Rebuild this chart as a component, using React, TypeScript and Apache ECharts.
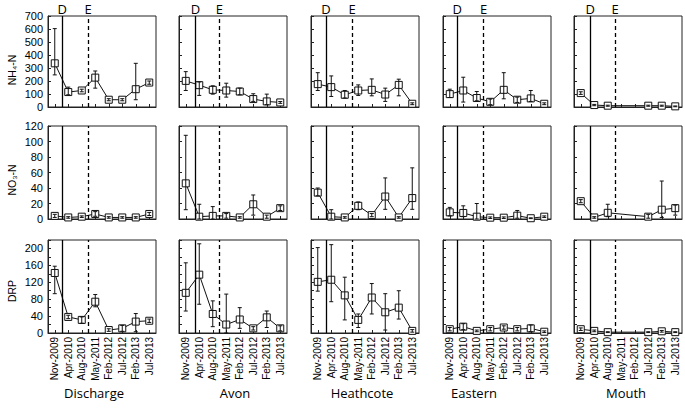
import React, { useEffect, useRef } from "react";
import * as echarts from "echarts";

const CATEGORIES = ["Nov-2009", "Apr-2010", "Aug-2010", "May-2011", "Feb-2012", "Jul-2012", "Feb-2013", "Jul-2013"];
const SITES = ["Discharge", "Avon", "Heathcote", "Eastern", "Mouth"];
const VARIABLES = ["NH₄-N", "NO₃-N", "DRP"];

// event positions (in category-index units) for the Darfield (D) and Christchurch (E) earthquakes
const D_POS = [0.55, 0.72, 0.6, 0.56, 0.7];
const E_POS = [2.48, 2.49, 2.55, 2.5, 2.55];

type N = number | null;

// NH4-N
const NH4_MEAN: N[][] = [
  [336, 115, 127, 226, 56, 56, 137, 188],
  [201, 168, 132, 127, 119, 61, 43, 35],
  [176, 153, 94, 127, 132, 96, 170, 25],
  [99, 127, 69, 40, 132, 56, 66, 25],
  [107, 15, 10, null, null, 10, 10, 5],
];
const NH4_LOW: N[][] = [
  [247, 94, 117, 145, 48, 48, 56, 175],
  [127, 89, 99, 76, 94, 43, 18, 28],
  [127, 81, 69, 89, 86, 43, 86, 18],
  [73, 38, 48, 18, 63, 35, 43, 18],
  [97, 10, 6, null, null, 6, 6, 2],
];
const NH4_HIGH: N[][] = [
  [603, 153, 137, 277, 64, 64, 336, 200],
  [272, 193, 163, 183, 145, 102, 99, 42],
  [264, 239, 127, 170, 216, 145, 214, 32],
  [137, 229, 119, 61, 264, 76, 127, 32],
  [117, 20, 14, null, null, 14, 14, 8],
];

// NO3-N
const NO3_MEAN: N[][] = [
  [4, 2, 3, 6.5, 2, 2, 2, 6.5],
  [46, 3, 4, 4, 2, 19, 3, 14],
  [34, 3, 2, 17, 5, 29, 2, 27],
  [8.6, 7.8, 3, 1.7, 1.7, 4.3, 1, 3],
  [23, 2, 8, null, null, 3, 12, 14],
];
const NO3_LOW: N[][] = [
  [2, 1, 2, 3.5, 1, 1, 1, 4.5],
  [12, 0, 0, 1, 1, 5, 1, 11],
  [30, 0, 1, 12, 3, 12.5, 1, 12.5],
  [4, 3, 0, 0.7, 0.7, 1, 0.5, 2],
  [21, 1, 3, null, null, 1, 2, 5],
];
const NO3_HIGH: N[][] = [
  [6, 3, 4, 9.5, 3, 3, 3, 8.5],
  [108, 19, 16, 7, 3, 31, 5, 17],
  [40, 12, 3, 22, 7, 53, 3, 66],
  [15, 17, 20, 2.7, 2.7, 11, 1.5, 4],
  [25, 3, 19, null, null, 6, 49, 18],
];

// DRP
const DRP_MEAN: N[][] = [
  [142, 38, 31, 74, 7, 11, 27, 29],
  [95, 138, 45, 20, 32, 11, 37, 11],
  [121, 126, 89, 31, 84, 49, 60, 5],
  [9, 15, 5, 9, 13, 9, 11, 3],
  [9, 5, 2, null, null, 2, 4, 2],
];
const DRP_LOW: N[][] = [
  [93, 34, 23, 62, 4, 4, 3, 25],
  [52, 68, 15, 0, 11, 7, 13, 5],
  [99, 74, 31, 13, 45, 7, 33, 2],
  [5, 8, 3, 5, 9, 5, 3, 1],
  [6, 3, 1, null, null, 1, 2, 1],
];
const DRP_HIGH: N[][] = [
  [158, 42, 38, 91, 10, 18, 46, 33],
  [166, 211, 76, 92, 60, 15, 52, 17],
  [202, 209, 132, 45, 117, 93, 100, 8],
  [13, 22, 7, 13, 17, 13, 19, 5],
  [12, 7, 3, null, null, 3, 6, 3],
];

const Y_MAX = [700, 120, 220];
const Y_INTERVAL = [100, 20, 20];
const Y_LABEL_STEP = [100, 20, 40];
const Y_LABEL_MAX = [700, 120, 200];

const MEANS = [NH4_MEAN, NO3_MEAN, DRP_MEAN];
const LOWS = [NH4_LOW, NO3_LOW, DRP_LOW];
const HIGHS = [NH4_HIGH, NO3_HIGH, DRP_HIGH];

const FONT = "'Liberation Sans', Arial, sans-serif";

export default function App() {
  const ref = useRef<HTMLDivElement>(null);
  useEffect(() => {
    document.body.style.margin = "0";
    if (!ref.current) return;
    const chart = echarts.init(ref.current, null, { renderer: "svg" });

    const rowTop = [16, 126, 240];
    const rowHeight = [91, 93, 93];
    const colLeft = [48, 179, 311, 443, 574];
    const colWidth = 108;

    const grids: any[] = [];
    const xAxes: any[] = [];
    const yAxes: any[] = [];
    const series: any[] = [];

    for (let r = 0; r < 3; r++) {
      for (let c = 0; c < 5; c++) {
        const g = grids.length;
        grids.push({
          left: colLeft[c],
          top: rowTop[r],
          width: colWidth,
          height: rowHeight[r],
          show: true,
          borderColor: "#222",
          borderWidth: 1,
          backgroundColor: "transparent",
        });
        xAxes.push({
          type: "category",
          gridIndex: g,
          data: CATEGORIES,
          boundaryGap: true,
          position: "bottom",
          axisLine: { show: true, onZero: false, lineStyle: { color: "#222", width: 1 } },
          axisTick: { show: true, inside: true, alignWithLabel: true, length: 3, lineStyle: { color: "#222" } },
          axisLabel: {
            show: r === 2,
            rotate: 90,
            interval: 0,
            margin: 4,
            fontSize: 10,
            fontFamily: FONT,
            color: "#000",
          },
          splitLine: { show: false },
        });
        const valIdx = xAxes.length;
        xAxes.push({
          type: "value",
          gridIndex: g,
          min: -0.5,
          max: 7.5,
          show: false,
          axisLine: { onZero: false },
          splitLine: { show: false },
        });
        yAxes.push({
          type: "value",
          gridIndex: g,
          min: 0,
          max: Y_MAX[r],
          interval: Y_INTERVAL[r],
          position: "left",
          axisLine: { show: true, onZero: false, lineStyle: { color: "#222", width: 1 } },
          axisTick: { show: true, inside: true, length: 3, lineStyle: { color: "#222" } },
          axisLabel: {
            show: c === 0,
            margin: 5,
            fontSize: 11,
            fontFamily: FONT,
            color: "#000",
            formatter: (v: number) =>
              v % Y_LABEL_STEP[r] === 0 && v <= Y_LABEL_MAX[r] ? String(v) : "",
          },
          splitLine: { show: false },
        });

        const mean = MEANS[r][c];
        const lo = LOWS[r][c];
        const hi = HIGHS[r][c];
        const pts: number[][] = [];
        const bars: number[][] = [];
        mean.forEach((m, i) => {
          if (m === null) return;
          pts.push([i, m]);
          if (lo[i] !== null && hi[i] !== null) bars.push([i, lo[i] as number, hi[i] as number]);
        });

        const showLbl = r === 0;
        const lblStyle = {
          show: showLbl,
          position: "end",
          distance: 1,
          fontSize: 13,
          fontFamily: "'Open Sans', sans-serif",
          color: "#000",
        };
        series.push({
          type: "line",
          xAxisIndex: valIdx,
          yAxisIndex: g,
          data: pts,
          symbol: "rect",
          symbolSize: 7,
          z: 3,
          lineStyle: { color: "#111", width: 1 },
          itemStyle: { color: "#fff", borderColor: "#111", borderWidth: 1 },
          markLine: {
            silent: true,
            symbol: ["none", "none"],
            animation: false,
            data: [
              {
                xAxis: D_POS[c],
                lineStyle: { color: "#000", width: 1.3, type: "solid" },
                label: { ...lblStyle, formatter: "D" },
              },
              {
                xAxis: E_POS[c],
                lineStyle: { color: "#000", width: 1.3, type: [4, 3] },
                label: { ...lblStyle, formatter: "E" },
              },
            ],
          },
        });
        series.push({
          type: "custom",
          xAxisIndex: valIdx,
          yAxisIndex: g,
          data: bars,
          z: 4,
          encode: { x: 0, y: [1, 2] },
          renderItem: (_p: any, api: any) => {
            const x = api.value(0);
            const pLo = api.coord([x, api.value(1)]);
            const pHi = api.coord([x, api.value(2)]);
            const w = 2;
            const st = { stroke: "#111", lineWidth: 1 };
            return {
              type: "group",
              children: [
                { type: "line", shape: { x1: pLo[0], y1: pLo[1], x2: pHi[0], y2: pHi[1] }, style: st },
                { type: "line", shape: { x1: pLo[0] - w, y1: pLo[1], x2: pLo[0] + w, y2: pLo[1] }, style: st },
                { type: "line", shape: { x1: pHi[0] - w, y1: pHi[1], x2: pHi[0] + w, y2: pHi[1] }, style: st },
              ],
            };
          },
        });
      }
    }

    const nameY = [70, 180, 291];
    const titleX = [94, 235, 362, 474, 626];
    const graphics: any[] = [];
    VARIABLES.forEach((v, r) => {
      graphics.push({
        type: "text",
        x: 12,
        y: nameY[r],
        rotation: Math.PI / 2,
        style: {
          text: v,
          fontSize: 10.5,
          fontFamily: FONT,
          fill: "#000",
          align: "center",
          verticalAlign: "middle",
        },
      });
    });
    SITES.forEach((s, c) => {
      graphics.push({
        type: "text",
        x: titleX[c],
        y: 393,
        style: {
          text: s,
          fontSize: 13,
          fontFamily: "'Open Sans', sans-serif",
          fill: "#000",
          align: "center",
          verticalAlign: "middle",
        },
      });
    });

    chart.setOption({
      animation: false,
      backgroundColor: "#fff",
      grid: grids,
      xAxis: xAxes,
      yAxis: yAxes,
      series,
      graphic: graphics,
    });
    return () => chart.dispose();
  }, []);
  return <div ref={ref} style={{ width: 685, height: 415 }} />;
}
